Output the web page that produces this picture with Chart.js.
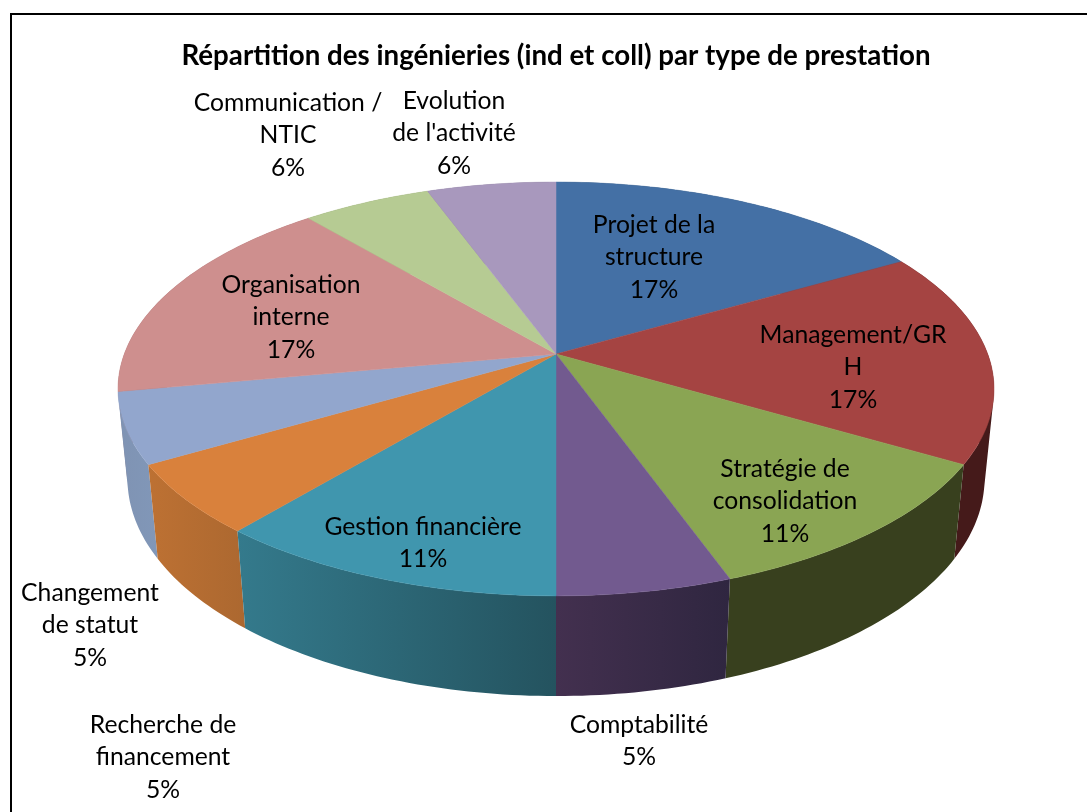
<!DOCTYPE html>
<html lang="fr"><head><meta charset="utf-8">
<style>html,body{margin:0;padding:0;background:#fff;overflow:hidden}canvas{display:block}</style>
<script src="https://cdn.jsdelivr.net/npm/chart.js@4"></script></head>
<body><canvas id="c" width="1087" height="812"></canvas>
<script>
const chartTitle = "Répartition des ingénieries (ind et coll) par type de prestation";
const categories = ["Projet de la structure","Management/GRH","Stratégie de consolidation","Comptabilité","Gestion financière","Changement de statut","Recherche de financement","Organisation interne","Communication / NTIC","Evolution de l'activité"];
const values = [16.7,16.7,11.1,5.5,11.1,5.5,5.5,16.7,5.6,5.6];
const percentLabels = ["17%","17%","11%","5%","11%","5%","5%","17%","6%","6%"];
const labelLines = [["Projet de la","structure"],["Management/GR","H"],["Stratégie de","consolidation"],["Comptabilité"],["Gestion financière"],["Changement","de statut"],["Recherche de","financement"],["Organisation","interne"],["Communication /","NTIC"],["Evolution","de l'activité"]];
const labelCentres = [[654,225],[853,335],[785,469],[639,725],[423,527],[90,593],[163,725],[291,285],[288,103],[454,101]];
const topColours = ["#4470a5","#a54442","#8aa553","#725a8f","#4096ae","#d9813c","#92a6cd","#ce8f8e","#b6cb93","#a898bd"];
const wallColours = [["#2a4565","#2a4565"],["#451a1a","#451a1a"],["#38401e","#38401e"],["#43304f","#2f2640"],["#347a8c","#24535f"],["#bd7133","#ac6830"],["#7f93b3","#8197b8"],["#8a6060","#8a6060"],["#7a8a62","#7a8a62"],["#6f6480","#6f6480"]];
const view = {cx:556, cy:354, a:431.7, b:201, c:0.169, kDepth:0.0215, drop:90.6};
const labelFont = '24.7px Lato, Carlito, sans-serif', lineStep = 32.3;

function project(theta, t){
  const X = Math.sin(theta), Y = Math.cos(theta);
  const w = 1 + view.kDepth*t + view.c*Y;
  return [view.cx + view.a*X/w, view.cy - (view.b*Y - view.drop*t)/w];
}
function thetaRange(el){ return [el.startAngle+Math.PI/2, el.endAngle+Math.PI/2]; }
function arcPts(t0,t1,depth){
  const n = Math.max(2,Math.ceil(Math.abs(t1-t0)*180/Math.PI)), p=[];
  for(let i=0;i<=n;i++) p.push(project(t0+(t1-t0)*i/n,depth));
  return p;
}
function area(q){
  let s=0;
  q.forEach((p,i)=>{const r=q[(i+1)%q.length]; s+=p[0]*r[1]-r[0]*p[1];});
  return s;
}
const pie3d = {
  id:'pie3d',
  beforeDraw(chart){
    const g=chart.ctx; g.save(); g.strokeStyle='#000'; g.lineWidth=2;
    g.beginPath(); g.moveTo(11,812); g.lineTo(11,14); g.lineTo(1087,14); g.stroke(); g.restore();
  },
  beforeDatasetDraw(chart,args){
    const g=chart.ctx, els=args.meta.data;
    const order=els.map((e,i)=>i).sort((p,q)=>{
      const f=i=>{const r=thetaRange(els[i]);return Math.abs((r[0]+r[1])/2-Math.PI);};
      return f(q)-f(p);
    });
    g.save();
    for(const i of order){
      const [t0,t1]=thetaRange(els[i]);
      const top=arcPts(t0,t1,0), bot=arcPts(t0,t1,1);
      const xs=top.concat(bot).map(p=>p[0]);
      const grad=g.createLinearGradient(Math.min(...xs),0,Math.max(...xs),0);
      const cols=wallColours[i];
      grad.addColorStop(0,cols[0]); grad.addColorStop(1,cols[1]);
      g.fillStyle=grad;
      g.beginPath();
      for(let k=0;k<top.length-1;k++){
        let q=[top[k],top[k+1],bot[k+1],bot[k]];
        if(area(q)<0) q=q.reverse();
        q.forEach((p,j)=>j?g.lineTo(p[0],p[1]):g.moveTo(p[0],p[1]));
        g.closePath();
      }
      g.fill();
    }
    els.forEach((el,i)=>{
      const [t0,t1]=thetaRange(el);
      g.fillStyle=topColours[i]; g.strokeStyle=topColours[i]; g.lineWidth=0.5;
      g.beginPath(); g.moveTo(view.cx,view.cy);
      arcPts(t0,t1,0).forEach(p=>g.lineTo(p[0],p[1]));
      g.closePath(); g.fill(); g.stroke();
    });
    g.restore();
    return false;
  },
  afterDatasetsDraw(chart){
    const g=chart.ctx;
    g.save(); g.font=labelFont; g.fillStyle='#000'; g.textAlign='center'; g.textBaseline='middle';
    categories.forEach((_,i)=>{
      const lines=labelLines[i].concat(percentLabels[i]);
      lines.forEach((s,k)=>g.fillText(s,labelCentres[i][0],labelCentres[i][1]+k*lineStep));
    });
    g.restore();
  }
};
const canvasCtx=document.getElementById('c').getContext('2d');
canvasCtx.letterSpacing='0.01px';
new Chart(canvasCtx,{
  type:'pie',
  data:{labels:categories,datasets:[{data:values,backgroundColor:topColours,borderWidth:0}]},
  plugins:[pie3d],
  options:{
    responsive:false,animation:false,
    layout:{padding:{left:25,top:27}},
    plugins:{
      legend:{display:false},tooltip:{enabled:false},
      title:{display:true,text:chartTitle,color:'#000',font:{family:'Lato, Carlito, sans-serif',size:27.7,weight:'bold'},padding:{top:12,bottom:10}}
    }
  }
});
</script></body></html>
